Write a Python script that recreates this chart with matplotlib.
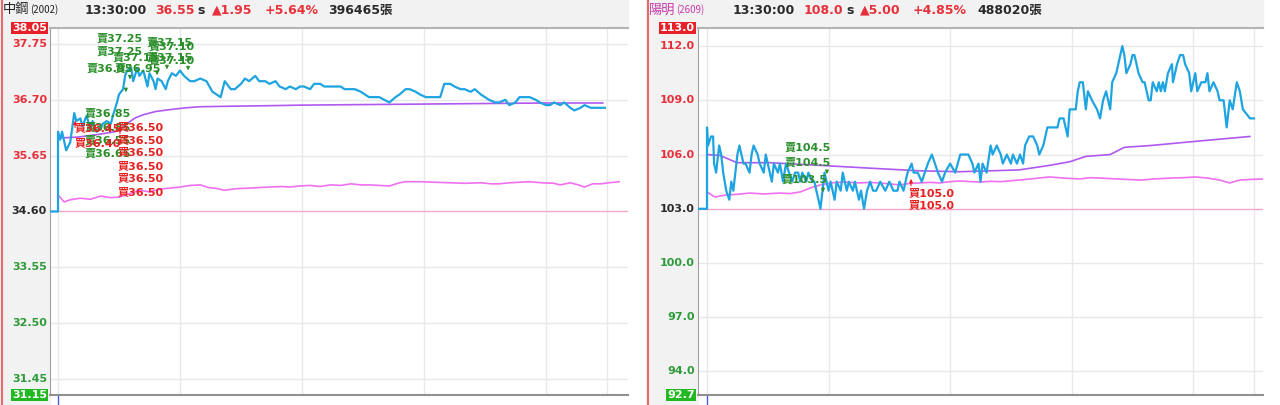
import matplotlib
matplotlib.use("Agg")
import matplotlib.pyplot as plt
from matplotlib.lines import Line2D
from matplotlib.patches import Rectangle

FONTS = ['DejaVu Sans', 'Noto Sans CJK TC']

# ---- 中鋼 (2002) ----
left_name, left_code = "中鋼", "(2002)"
left_head = ["13:30:00", "36.55", "1.95", "+5.64%", "396465"]
left_ref, left_top, left_bot = 34.60, 38.05, 31.15
left_ticks = [37.75, 36.70, 35.65, 34.60, 33.55, 32.50, 31.45]

left_pt = [-4, 0, 0, 1, 2, 4, 6, 8, 9, 11, 12, 14, 16, 17, 19, 21, 22, 24, 26, 27, 29,
           30, 32, 33, 34, 36, 37, 39, 40, 42, 44, 45, 47, 48, 49, 51, 53, 54, 56, 58,
           60, 62, 65, 67, 70, 73, 76, 80, 82, 85, 87, 90, 92, 94, 97, 99, 102, 104,
           107, 109, 112, 114, 117, 119, 121, 124, 126, 129, 131, 134, 136, 139, 141,
           144, 146, 149, 151, 153, 156, 158, 163, 166, 168, 171, 173, 176, 178, 181,
           183, 185, 188, 190, 193, 195, 198, 200, 203, 205, 208, 210, 212, 215, 217,
           220, 222, 225, 227, 230, 232, 235, 237, 240, 242, 244, 247, 249, 252, 254,
           257, 259, 262, 264, 267, 269]
left_price = [34.60, 34.60, 36.10, 35.95, 36.10, 35.75, 35.90, 36.45, 36.30, 36.35, 36.20,
              36.40, 36.15, 36.30, 36.10, 36.15, 36.25, 36.30, 36.25, 36.40, 36.65,
              36.80, 36.90, 37.15, 37.25, 37.30, 37.05, 37.30, 37.15, 37.25, 36.95,
              37.20, 37.05, 36.90, 37.10, 37.05, 36.90, 37.05, 37.20, 37.15,
              37.25, 37.15, 37.05, 37.05, 37.10, 37.05, 36.85, 36.75, 37.05, 36.90,
              36.90, 37.00, 37.10, 37.05, 37.15, 37.05, 37.05, 37.00,
              37.05, 36.95, 36.90, 36.95, 36.90, 36.95, 36.95, 36.90, 37.00, 37.00,
              36.95, 36.95, 36.95, 36.95, 36.90,
              36.90, 36.90, 36.85, 36.80, 36.75, 36.75, 36.75, 36.65, 36.75, 36.80,
              36.90, 36.90, 36.85, 36.80, 36.75,
              36.75, 36.75, 36.75, 37.00, 37.00, 36.95, 36.90, 36.90, 36.85, 36.90,
              36.80, 36.75, 36.70, 36.65, 36.65,
              36.70, 36.60, 36.65, 36.75, 36.75, 36.75, 36.70, 36.65, 36.60, 36.60,
              36.65, 36.60, 36.65, 36.55, 36.50,
              36.55, 36.60, 36.55, 36.55, 36.55, 36.55]

left_at = [0, 10, 20, 28, 30, 33, 35, 38, 42, 48, 56, 63, 70, 86, 105, 120, 150, 180,
           210, 240, 268]
left_avg = [35.98, 36.00, 36.05, 36.10, 36.13, 36.22, 36.28, 36.36, 36.42, 36.48, 36.52,
            36.55, 36.57, 36.58, 36.59, 36.60, 36.61, 36.62, 36.63, 36.64, 36.64]

left_mt = [0, 3, 6, 11, 16, 21, 26, 30, 35, 40, 45, 50, 55, 60, 65, 70, 74, 77, 82, 88,
           94, 99, 104, 110, 114, 119, 124, 129, 134, 139, 144, 149, 153, 158, 163, 168,
           171, 178, 185, 193, 200, 208, 213, 217, 222, 227, 232, 238, 244, 247, 252,
           256, 259, 263, 267, 271, 276]
left_mag = [34.91, 34.78, 34.82, 34.85, 34.83, 34.89, 34.86, 34.87, 34.93, 35.00, 34.97,
            35.02, 35.04, 35.06, 35.09, 35.10, 35.05, 35.04, 35.00, 35.03, 35.04, 35.05,
            35.06, 35.07, 35.06, 35.08, 35.09, 35.07, 35.10, 35.09, 35.12, 35.10, 35.10,
            35.09, 35.08, 35.14, 35.16, 35.16, 35.15, 35.14, 35.13, 35.14, 35.12, 35.12,
            35.14, 35.15, 35.16, 35.14, 35.13, 35.10, 35.14, 35.10, 35.06, 35.12, 35.12,
            35.14, 35.16]

# trade labels (text, minute, label height); overlapping as on the source screen
left_sell_txt = ["賣37.25", "賣37.15", "賣37.10", "賣37.25", "賣37.15", "賣37.15", "賣37.10",
                 "賣36.95", "賣36.95", "賣36.85", "賣36.85", "賣36.55", "賣36.65"]
left_sell_lx = [19.2, 43.8, 44.8, 19.2, 27.0, 43.8, 44.8, 14.3, 28.0, 13.3, 13.3, 13.3, 13.3]
left_sell_ly = [37.85, 37.78, 37.70, 37.60, 37.50, 37.50, 37.44, 37.29, 37.29, 36.44,
                36.18, 35.93, 35.69]
left_buy_txt = ["買36.45", "買36.40", "買36.50", "買36.50", "買36.50", "買36.50", "買36.50",
                "買36.50"]
left_buy_lx = [8.4, 8.4, 29.5, 29.5, 29.5, 29.5, 29.5, 29.5]
left_buy_ly = [36.16, 35.88, 36.18, 35.95, 35.71, 35.45, 35.22, 34.96]
left_sell_mt = [33.4, 35.4, 48.7, 53.6, 64.0]
left_sell_mp = [36.79, 37.03, 37.11, 37.22, 37.20]
left_buy_mt = [8.4, 30.5]
left_buy_mp = [36.36, 36.25]

# ---- 陽明 (2609) ----
right_name, right_code = "陽明", "(2609)"
right_head = ["13:30:00", "108.0", "5.00", "+4.85%", "488020"]
right_ref, right_top, right_bot = 103.0, 113.0, 92.7
right_ticks = [112.0, 109.0, 106.0, 103.0, 100.0, 97.0, 94.0]

right_pt = [-4.4, 0, 0, 0.5, 2, 3, 3.5, 4.5, 6, 7, 8, 9.5, 11, 12, 13, 15, 16, 17, 18, 19,
            21, 22, 23, 25, 26, 28, 29, 31, 32, 33, 35, 36, 37.5, 39, 40.5, 42, 43.5, 45,
            46, 47, 49, 50, 52, 53, 55, 56, 57, 58, 60, 61, 63, 64, 66, 67, 69, 70, 72,
            73, 75, 76, 77.5, 79, 80.5, 82, 83.5, 85.5, 88, 90, 92, 94, 95, 97, 99, 101,
            102, 104, 106, 107.5, 109, 111, 112.5, 114, 116, 117.5, 120, 122.5, 125, 129,
            131, 132, 134, 135, 136, 138, 140, 141, 143, 145, 146, 148, 150, 151, 153,
            154.5, 156, 157, 159, 161, 163, 164, 166, 168, 169, 173, 174, 176, 178, 179,
            181, 182, 183, 184, 185.5, 187, 188, 190, 192.5, 194, 195.5, 197, 199, 200,
            202, 204, 205, 206, 207, 209, 210, 211, 213, 215, 216, 218, 219, 220, 222,
            223, 224, 225, 226, 227.5, 229.5, 230, 232, 233.5, 235, 236, 238, 239, 241,
            242, 244, 246, 247, 248, 250, 252, 253, 255, 256.5, 258, 259.5, 261.5, 263,
            264.5, 268, 270]
right_price = [103.0, 103.0, 107.5, 106.5, 107.0, 107.0, 105.5, 105.0, 106.5, 106.0, 105.0,
               104.0, 103.5, 104.5, 104.0, 106.0, 106.5, 106.0, 105.5, 105.5,
               105.0, 106.0, 106.5, 106.0, 105.5, 105.0, 106.0, 105.0, 104.5, 105.5, 105.0,
               105.5, 104.5, 105.5, 105.0, 104.5, 105.0, 105.0,
               104.5, 105.0, 104.5, 105.0, 104.5, 104.5, 103.5, 103.0, 104.0, 105.0, 104.0,
               104.5, 103.5, 104.5, 104.0, 105.0, 104.0, 104.5, 104.0,
               104.5, 103.5, 104.0, 103.0, 104.0, 104.5, 104.0, 104.0, 104.5, 104.0, 104.5,
               104.0, 104.0, 104.5, 104.0, 105.0, 105.5,
               105.0, 105.0, 104.5, 105.0, 105.5, 106.0, 105.5, 105.0, 104.5, 105.0, 105.5,
               105.0, 106.0, 106.0,
               105.5, 105.0, 105.5, 104.5, 105.5, 105.0, 106.5, 106.0, 106.5, 106.0, 105.5,
               106.0, 105.5, 106.0, 105.5,
               106.0, 105.5, 106.5, 107.0, 107.0, 106.5, 106.0, 106.5, 107.5, 107.5, 107.5,
               108.0, 108.0, 107.0, 108.5,
               108.5, 108.5, 109.5, 110.0, 110.0, 108.5, 109.5, 109.0, 108.5, 108.0, 109.0,
               109.5, 108.5, 110.0,
               110.5, 111.5, 112.0, 111.5, 110.5, 111.0, 111.5, 111.5, 110.5, 110.0, 110.0,
               109.0, 109.0, 110.0, 109.5,
               110.0, 109.5, 110.0, 109.5, 110.5, 111.0, 110.0, 111.0, 111.5, 111.5, 111.0,
               110.5, 109.5, 110.5,
               109.5, 110.0, 110.0, 110.5, 109.5, 110.0, 109.5, 109.0, 109.0, 107.5, 109.0,
               108.5, 110.0, 109.5,
               108.5, 108.0, 108.0]

right_at = [0, 6.4, 14.8, 31, 56, 80, 105, 125, 154, 169, 179, 187, 199, 206, 219, 243, 268]
right_avg = [106.0, 105.95, 105.55, 105.55, 105.4, 105.25, 105.1, 105.05, 105.15, 105.4,
             105.6, 105.9, 106.0, 106.4, 106.5, 106.75, 107.0]

right_mt = [0, 4, 9, 15, 21, 28, 36, 41, 46, 51, 56, 61, 68, 72, 75.5, 80, 85, 90, 95, 100,
            105, 110, 115, 120, 125, 130, 135, 140, 145, 157, 169, 176, 184, 189, 194,
            204, 214, 222, 229, 235, 241, 247, 253, 258, 263, 268, 274]
right_mag = [103.93, 103.65, 103.76, 103.80, 103.87, 103.82, 103.87, 103.84, 103.93, 104.15,
             104.32, 104.43, 104.48, 104.45, 104.43, 104.46, 104.43, 104.38, 104.32, 104.40,
             104.43, 104.46, 104.43, 104.50, 104.54, 104.50, 104.48, 104.52, 104.50, 104.62,
             104.76, 104.70, 104.65, 104.72, 104.70, 104.64, 104.59, 104.66, 104.70, 104.72,
             104.76, 104.70, 104.59, 104.43, 104.59, 104.62, 104.65]

right_sell_txt = ["賣104.5", "賣104.5", "賣103.5"]
right_sell_lx = [38.5, 38.5, 37.0]
right_sell_ly = [106.36, 105.53, 104.59]
right_buy_txt = ["買105.0", "買105.0"]
right_buy_lx = [99.7, 99.7]
right_buy_ly = [103.87, 103.21]
right_sell_mt = [59.2, 57.3]
right_sell_mp = [104.76, 103.76]
right_buy_mt = [100.7]
right_buy_mp = [104.81]

W, H = 1280, 405
RED, GREEN, DARK = '#e8303a', '#2e9a3a', '#2a2a2a'
BG = '#f2f2f2'


def fx(px):
    return px / W


def fy(py):
    return 1 - py / H


fig = plt.figure(figsize=(12.8, 4.05), dpi=100)


def draw_panel(x0, x1, ax_left, start_px, px_per_min, name, code, name_color, head,
               ref, top, bot, ticks, fmt, pt, price, at, avg, mt, mag,
               sell_txt, sell_lx, sell_ly, buy_txt, buy_lx, buy_ly,
               sell_mt, sell_mp, buy_mt, buy_mp, head_x):
    # grey frame areas (behind the axes)
    fig.patches.append(Rectangle((fx(x0), fy(28)), fx(x1 - x0), 28 / H,
                                 transform=fig.transFigure, color=BG, zorder=-2))
    fig.patches.append(Rectangle((fx(x0), 0), fx(ax_left - x0), 1,
                                 transform=fig.transFigure, color=BG, zorder=-2))
    fig.lines.append(Line2D([fx(x0 + 1.5)] * 2, [0, 1], transform=fig.transFigure,
                            color='#e86a6a', lw=1.5, zorder=-1))

    ax = fig.add_axes([fx(ax_left), fy(395), fx(x1 - ax_left), 367 / H])
    ax.set_facecolor('white')
    ax.set_ylim(bot, top)
    ax.set_xlim((ax_left - start_px) / px_per_min, (x1 - start_px) / px_per_min)
    ax.spines['right'].set_visible(False)
    ax.spines['left'].set_color('#a0a0a0')
    ax.spines['top'].set_color('#b4b4b4')
    ax.spines['top'].set_linewidth(1.5)
    ax.spines['bottom'].set_color('#909090')
    ax.spines['bottom'].set_linewidth(1.5)
    ax.set_xticks([])
    ax.set_yticks([])

    for t in ticks:
        if t != ref:
            ax.axhline(t, color='#e8e8e8', lw=1, zorder=1)
    for m in [0, 60, 120, 180, 240, 270]:
        ax.axvline(m, color='#e8e8e8', lw=1, zorder=1)
    ax.axhline(ref, color='#f0a8c8', lw=1, zorder=2)

    ax.plot(mt, mag, color='#f070f0', lw=1.2, zorder=3)
    ax.plot(at, avg, color='#b058f0', lw=1.2, zorder=3)
    ax.plot(pt, price, color='#1ea4e0', lw=1.6, zorder=4)

    # y labels
    tr = ax.get_yaxis_transform()
    lx = -3 / (x1 - ax_left)
    for t in ticks:
        c = RED if t > ref else (DARK if t == ref else GREEN)
        ax.text(lx, t, fmt % t, transform=tr, ha='right', va='center', color=c,
                fontsize=8, fontweight='bold', family=FONTS, clip_on=False)
    ax.text(lx, top, fmt % top, transform=tr, ha='right', va='center', color='white',
            fontsize=8, fontweight='bold', family=FONTS, clip_on=False,
            bbox=dict(boxstyle='square,pad=0.12', fc='#e8202a', ec='none'))
    ax.text(lx, bot, fmt % bot, transform=tr, ha='right', va='center', color='white',
            fontsize=8, fontweight='bold', family=FONTS, clip_on=False,
            bbox=dict(boxstyle='square,pad=0.12', fc='#22b822', ec='none'))

    # trade marks
    for t, x, y in zip(sell_txt, sell_lx, sell_ly):
        ax.text(x, y, t, color='#2a8f2a', fontsize=8, fontweight='bold', family=FONTS,
                ha='left', va='center', zorder=6)
    for t, x, y in zip(buy_txt, buy_lx, buy_ly):
        ax.text(x, y, t, color='#e82020', fontsize=8, fontweight='bold', family=FONTS,
                ha='left', va='center', zorder=6)
    for x, y in zip(sell_mt, sell_mp):
        ax.annotate('', xy=(x, y), xytext=(0, 7), textcoords='offset points',
                    arrowprops=dict(arrowstyle='-|>', color='#2a8f2a', lw=0.8,
                                    mutation_scale=5), zorder=6)
    for x, y in zip(buy_mt, buy_mp):
        ax.annotate('', xy=(x, y), xytext=(0, -9), textcoords='offset points',
                    arrowprops=dict(arrowstyle='-|>', color='#e82020', lw=0.8,
                                    mutation_scale=5), zorder=6)

    # small tick below the frame at the open
    fig.lines.append(Line2D([fx(start_px)] * 2, [0, fy(396)], transform=fig.transFigure,
                            color='#4a5ee0', lw=1))

    # header line
    yh = fy(10)
    fig.text(fx(x0 + 3), yh, name, color=name_color, fontsize=9.5,
             family=['Noto Sans CJK TC'], va='center')
    fig.text(fx(x0 + 30), yh, code, color=name_color, fontsize=7,
             family=['Noto Sans CJK TC', 'DejaVu Sans'], va='center')
    kw = dict(fontsize=9, fontweight='bold', family=FONTS, va='center')
    tm, px_, ch, pc, vol = head
    fig.text(fx(head_x[0]), yh, tm, color=DARK, **kw)
    fig.text(fx(head_x[1]), yh, px_, color=RED, **kw)
    fig.text(fx(head_x[2]), yh, "s", color=DARK, **kw)
    fig.text(fx(head_x[3]), yh, "▲" + ch, color=RED, **kw)
    fig.text(fx(head_x[4]), yh, pc, color=RED, **kw)
    fig.text(fx(head_x[5]), yh, vol + "張", color=DARK, **kw)
    return ax


draw_panel(0, 628, 50, 58, 2.033, left_name, left_code, '#222222', left_head,
           left_ref, left_top, left_bot, left_ticks, '%.2f', left_pt, left_price,
           left_at, left_avg, left_mt, left_mag,
           left_sell_txt, left_sell_lx, left_sell_ly, left_buy_txt, left_buy_lx, left_buy_ly,
           left_sell_mt, left_sell_mp, left_buy_mt, left_buy_mp,
           [85, 155, 197, 212, 265, 328])
draw_panel(646, 1263, 698, 707, 2.026, right_name, right_code, '#c83cac', right_head,
           right_ref, right_top, right_bot, right_ticks, '%.1f', right_pt, right_price,
           right_at, right_avg, right_mt, right_mag,
           right_sell_txt, right_sell_lx, right_sell_ly, right_buy_txt, right_buy_lx,
           right_buy_ly, right_sell_mt, right_sell_mp, right_buy_mt, right_buy_mp,
           [733, 804, 846, 860, 913, 977])

fig.savefig("out.png", dpi=100)
